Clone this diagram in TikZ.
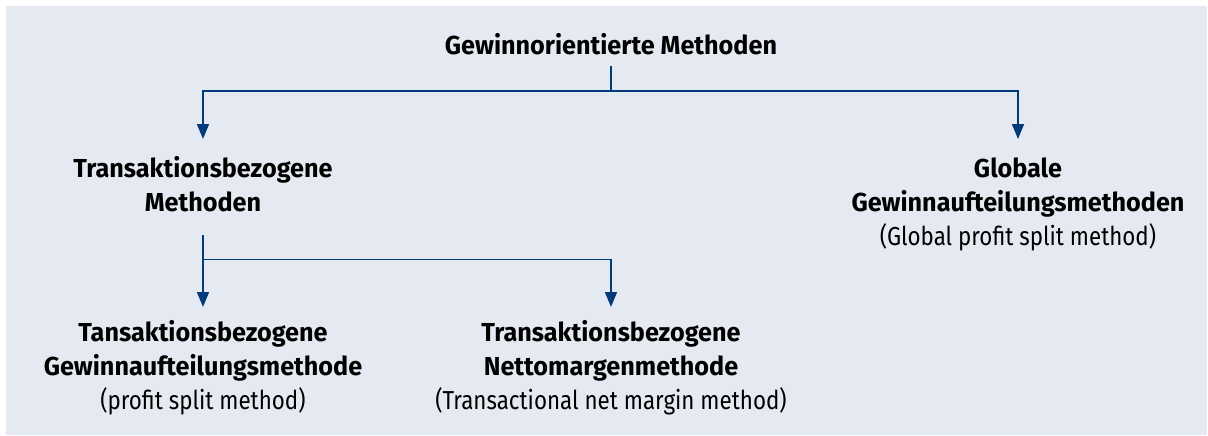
\documentclass[tikz,border=0pt]{standalone}
\usepackage{fontspec}
\newfontfamily\bfam{Fira Sans}[FakeStretch=0.97]
\newfontfamily\rfam{Fira Sans}[FakeStretch=0.86]
\usetikzlibrary{arrows.meta}
\definecolor{bgc}{HTML}{E5E9F1}
\definecolor{arrc}{HTML}{003A78}
\begin{document}
\begin{tikzpicture}[x=1pt,y=1pt,
  lbl/.style={inner sep=0pt, align=center, font=\fontsize{26}{34}\selectfont, anchor=north},
  conn/.style={draw=arrc, line width=1.6pt},
  arr/.style={conn, -{Triangle[width=12pt,length=15pt]}}]
\useasboundingbox (0,0) rectangle (1208,-436);
\fill[bgc] (6,-6) rectangle (1207,-435);
\newcommand{\fl}{\rule{0pt}{21pt}}
\newcommand{\hb}{\bfam\bfseries}
\node[lbl, anchor=base] (t) at (611,-55) {\hb Gewinnorientierte Methoden};
\node[lbl] (m) at (203,-156) {\hb\fl Transaktionsbezogene\\ \hb Methoden};
\node[lbl] (g) at (1018,-156) {\hb\fl Globale\\ \hb Gewinnaufteilungsmethoden\\ \rfam (Global profit split method)};
\node[lbl] (bl) at (203,-320) {\hb\fl Tansaktionsbezogene\\ \hb Gewinnaufteilungsmethode\\ \rfam (profit split method)};
\node[lbl] (bm) at (611,-320) {\hb\fl Transaktionsbezogene\\ \hb Nettomargenmethode\\ \rfam (Transactional net margin method)};
\coordinate (j1) at (611,-91);
\coordinate (j2) at (203,-259.5);
\draw[conn] (j1) -- (611,-66.5);
\draw[arr] (j1) -| ([yshift=17pt]m.north);
\draw[arr] (j1) -| ([yshift=17pt]g.north);
\draw[conn] (203,-235) -- (j2);
\draw[arr] (j2) -- ([yshift=13pt]bl.north);
\draw[arr] (j2) -| ([yshift=13pt]bm.north);
\end{tikzpicture}
\end{document}
